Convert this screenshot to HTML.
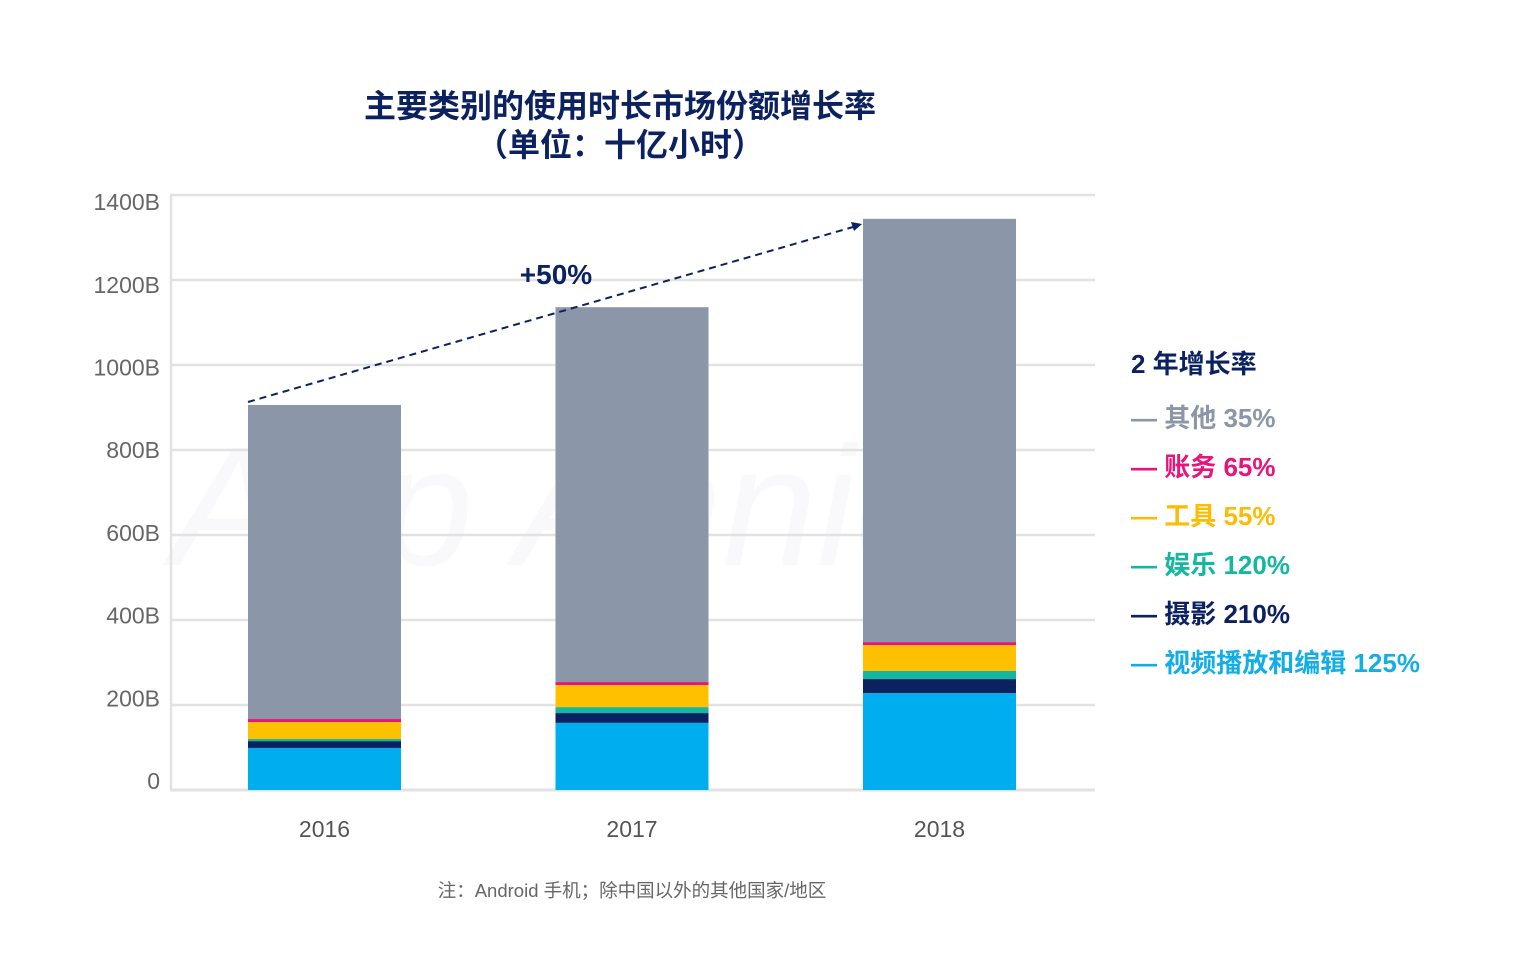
<!DOCTYPE html>
<html><head><meta charset="utf-8">
<style>
html,body{margin:0;padding:0;background:#fff;}
body{width:1538px;height:955px;overflow:hidden;position:relative;font-family:"Liberation Sans","Noto Sans CJK SC",sans-serif;}
svg text{font-family:"Liberation Sans","Noto Sans CJK SC",sans-serif;}
</style></head>
<body>
<svg id="chart" width="1538" height="955" viewBox="0 0 1538 955" xmlns="http://www.w3.org/2000/svg">
<text x="620" y="117" text-anchor="middle" font-size="32" font-weight="bold" fill="#0b2160">主要类别的使用时长市场份额增长率</text>
<text x="620" y="156" text-anchor="middle" font-size="32" font-weight="bold" fill="#0b2160">（单位：十亿小时）</text>
<text x="560" y="565" text-anchor="middle" font-size="170" font-style="italic" fill="#eef0f4" opacity="0.35">App Annie</text>
<g id="grid"></g>
<g id="bars"></g>
<g id="xlabels"></g>
<line x1="248" y1="402" x2="853" y2="227" stroke="#0b2160" stroke-width="2" stroke-dasharray="7,5"/>
<polygon points="862,224 851,222 854,231" fill="#0b2160"/>
<text x="556" y="284" text-anchor="middle" font-size="28" font-weight="bold" fill="#0b2160">+50%</text>
<g font-size="26" font-weight="bold">
<text x="1131" y="373" fill="#0b2160">2 年增长率</text>
<text x="1131" y="427" fill="#8c96a9">— 其他 35%</text>
<text x="1131" y="476" fill="#e8147a">— 账务 65%</text>
<text x="1131" y="525" fill="#fbbc05">— 工具 55%</text>
<text x="1131" y="574" fill="#14b8a0">— 娱乐 120%</text>
<text x="1131" y="623" fill="#0b2160">— 摄影 210%</text>
<text x="1131" y="672" fill="#14aee6">— 视频播放和编辑 125%</text>
</g>
<text x="632" y="897" text-anchor="middle" font-size="18.5" fill="#666">注：Android 手机；除中国以外的其他国家/地区</text>
</svg>
<script>
const categories = ["2016","2017","2018"];
const video = [99,158,228];
const photo = [16,23,33];
const entertainment = [5,14,19];
const tools = [40,52,61];
const finance = [7,7,7];
const other = [739,882,996];
const yTicks = [0,200,400,600,800,1000,1200,1400];
const yTickLabels = ["0","200B","400B","600B","800B","1000B","1200B","1400B"];
const seriesList = [video,photo,entertainment,tools,finance,other];
const seriesNames = ["video","photo","entertainment","tools","finance","other"];
const colors = ["#00aeef","#0b2160","#14b8a0","#ffc000","#e8147a","#8c96a9"];

const NS="http://www.w3.org/2000/svg";
const y0=790, pxPer=0.425;
function y(v){return y0 - v*pxPer;}
const barStart=248, barStep=307.5, barW=153;
function x(i){return barStart + i*barStep;}
function mk(tag,attrs,parent){const e=document.createElementNS(NS,tag);for(const k in attrs)e.setAttribute(k,attrs[k]);parent.appendChild(e);return e;}

const grid=document.getElementById('grid');
yTicks.forEach((t,i)=>{
  const l=mk('line',{x1:170,x2:1095,y1:y(t),y2:y(t),stroke:'#e2e2e2','stroke-width':i===0?3:2.5},grid);
  
  
  const ly = 789 - t*0.4135;
  const tx=mk('text',{x:160,y:ly,'text-anchor':'end','font-size':23,fill:'#666'},grid);
  tx.textContent=yTickLabels[i];
  
  
});
const ax=mk('line',{x1:171,x2:171,y1:y(1400),y2:y0,stroke:'#e2e2e2','stroke-width':2.5},grid);



const bars=document.getElementById('bars');
categories.forEach((c,i)=>{
  let acc=0;
  seriesList.forEach((s,j)=>{
    const v=s[i];
    const r=mk('rect',{x:x(i),y:y(acc+v),width:barW,height:v*pxPer,fill:colors[j]},bars);
    
    
    acc+=v;
  });
  const t=mk('text',{x:x(i)+barW/2,y:837,'text-anchor':'middle','font-size':23,fill:'#555'},document.getElementById('xlabels'));
  t.textContent=c;
  
  
});
</script>
</body></html>
